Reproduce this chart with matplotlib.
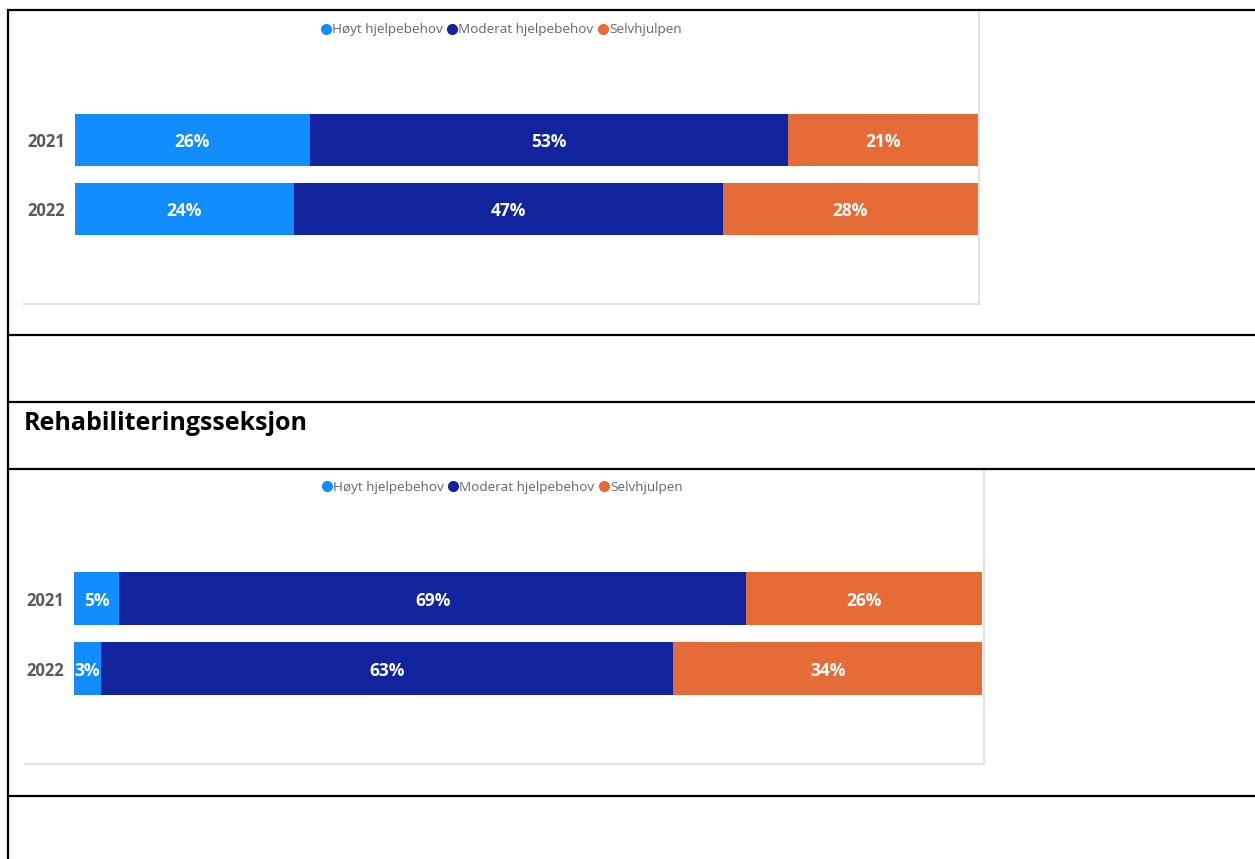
import matplotlib
matplotlib.use("Agg")
import matplotlib.pyplot as plt
from matplotlib.lines import Line2D
import numpy as np

# ---- data ----
years = ["2021", "2022"]
categories = ["Høyt hjelpebehov", "Moderat hjelpebehov", "Selvhjulpen"]
colors = ["#118DFF", "#12239E", "#E66C37"]

first_hoyt = [26, 24]
first_moderat = [53, 47]
first_selv = [21, 28]

rehab_hoyt = [5, 3]
rehab_moderat = [69, 63]
rehab_selv = [26, 34]

section_title = "Rehabiliteringsseksjon"

W, H = 1255, 859
fig = plt.figure(figsize=(W / 100, H / 100), dpi=100)
fig.patch.set_facecolor("white")


def fx(px):
    return px / W


def fy(py):
    return 1 - py / H


def hline(y, x0, x1, color="black", lw=1.6):
    fig.add_artist(Line2D([fx(x0), fx(x1)], [fy(y), fy(y)], color=color,
                          lw=lw, transform=fig.transFigure, solid_capstyle="butt"))


def vline(x, y0, y1, color="black", lw=1.6):
    fig.add_artist(Line2D([fx(x), fx(x)], [fy(y0), fy(y1)], color=color,
                          lw=lw, transform=fig.transFigure, solid_capstyle="butt"))


def stacked_panel(left, right, top, bottom, pitch, rows, legend_y, legend_x):
    height = bottom - top
    ax = fig.add_axes([fx(left), fy(bottom), fx(right - left), height / H])
    bar_h = (height - pitch) / pitch  # bar height in category units
    half = bar_h / 2
    ax.set_ylim(len(years) - 1 + half, -half)
    ax.set_xlim(0, 1)
    ypos = np.arange(len(years))
    totals = np.sum(rows, axis=0)
    start = np.zeros(len(years))
    for vals, col, name in zip(rows, colors, categories):
        frac = np.array(vals) / totals
        ax.barh(ypos, frac, left=start, height=bar_h, color=col,
                edgecolor="none", label=name)
        for yi, (s, f, v) in enumerate(zip(start, frac, vals)):
            ax.text(s + f / 2, yi + 0.03, f"{v}%", ha="center", va="center",
                    color="white", fontsize=12.5, fontweight="bold",
                    family="Open Sans")
        start = start + frac
    ax.set_yticks(ypos)
    ax.set_yticklabels(years, fontsize=12, fontweight="bold",
                       color="#5a5a5a", family="Open Sans")
    ax.tick_params(axis="y", length=0, pad=7)
    ax.set_xticks([])
    for sp in ax.spines.values():
        sp.set_visible(False)
    handles = [Line2D([0], [0], marker="o", linestyle="none", markersize=7,
                      markerfacecolor=c, markeredgecolor=c) for c in colors]
    fig.legend(handles, categories, loc="center", ncol=3, frameon=False,
               bbox_to_anchor=(fx(legend_x), fy(legend_y)),
               handletextpad=0.05, columnspacing=0.3, handlelength=0.8,
               prop={"family": "Open Sans", "size": 9.7},
               labelcolor="#666666", borderaxespad=0)
    return ax


# first chart
stacked_panel(75, 978, 114, 235, 69,
              [first_hoyt, first_moderat, first_selv], 30, 501)
# rehab chart
stacked_panel(74, 982, 572, 695, 70,
              [rehab_hoyt, rehab_moderat, rehab_selv], 487, 502)

# light panel borders around each visual
grey = "#e2e2e2"
hline(304, 23, 980, color=grey, lw=1.5)
vline(979, 10, 304, color=grey, lw=1.5)
hline(764, 24, 985, color=grey, lw=1.5)
vline(984, 470, 764, color=grey, lw=1.5)

# table rules
hline(10, 7, W)
vline(8, 9, H)
for y in (335, 402, 469, 796):
    hline(y, 7, W)

fig.text(fx(24), fy(423), section_title, ha="left", va="center",
         fontsize=18, fontweight="bold", family="Open Sans", color="black")

fig.savefig("out.png", dpi=100, facecolor="white")
